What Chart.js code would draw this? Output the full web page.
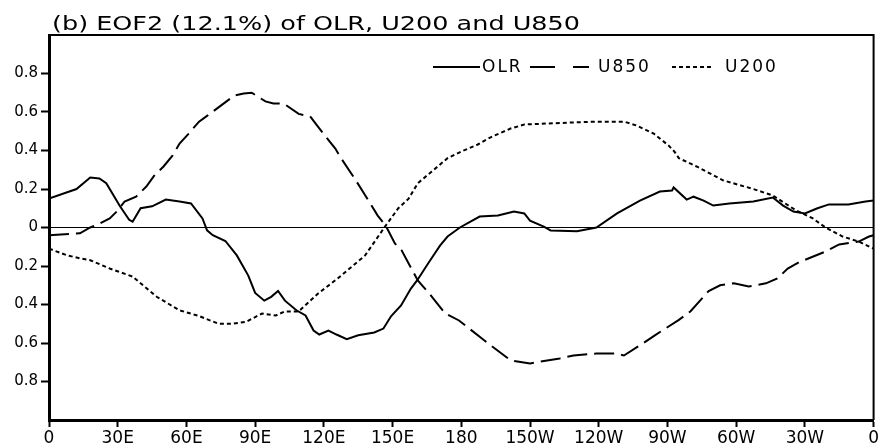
<!DOCTYPE html>
<html>
<head>
<meta charset="utf-8">
<script src="https://cdn.jsdelivr.net/npm/chart.js@4.4.1/dist/chart.umd.min.js"></script>
<style>
html,body{margin:0;padding:0;background:#fff;}
canvas{display:block;}
</style>
</head>
<body>
<canvas id="c" width="880" height="444"></canvas>
<script>
// ---- data ----
const titleText = "(b) EOF2 (12.1%) of OLR, U200 and U850";
const seriesNames = ["OLR", "U850", "U200"];

const olrLon = [0,12,18,22,25,31,35,36.5,40,45,51,57,62,67,69,71.5,77,82,87,90,94,97,100,103,108,112,115.5,118,122,125.5,130,135,142,146,149.4,153.7,158,160.7,165.5,170.7,174,179.4,188,196,203,207.5,210,216,219,230.5,239,248,258,266.7,272,272.7,278.4,281.4,285.8,290,297,307.5,316,320.5,325,330,335.5,340.5,349,356.5,360];
const olrVal = [0.15,0.2,0.26,0.255,0.23,0.11,0.04,0.03,0.1,0.11,0.145,0.135,0.125,0.047,-0.015,-0.04,-0.07,-0.145,-0.25,-0.34,-0.38,-0.36,-0.33,-0.38,-0.43,-0.457,-0.535,-0.556,-0.535,-0.556,-0.58,-0.56,-0.545,-0.525,-0.46,-0.405,-0.317,-0.275,-0.187,-0.094,-0.047,0,0.057,0.062,0.083,0.073,0.036,0.005,-0.015,-0.02,0,0.073,0.14,0.187,0.192,0.208,0.145,0.16,0.14,0.114,0.125,0.135,0.156,0.114,0.083,0.073,0.1,0.12,0.12,0.135,0.14];

const u850Lon = [0,13.5,18,22,26.5,30,33,38,42.5,46,50,54,57,61,65.5,69,81,85,88.5,94.5,98,102.5,109,114,117,125,127.5,134,137,143.5,147,151,154,161,166,173,179,189,193.5,201.5,204.5,210,223,229,239,248,251,259.5,264.5,275,280,288,293,299,305.5,313,318,322.5,327.5,339,345,353.5,358,360];
const u850Val = [-0.04,-0.03,0,0.02,0.047,0.088,0.135,0.16,0.213,0.27,0.317,0.374,0.436,0.488,0.55,0.58,0.686,0.696,0.70,0.655,0.644,0.644,0.59,0.577,0.53,0.41,0.36,0.244,0.187,0.062,0.01,-0.083,-0.12,-0.275,-0.343,-0.447,-0.483,-0.577,-0.618,-0.69,-0.696,-0.706,-0.68,-0.665,-0.655,-0.655,-0.665,-0.6,-0.56,-0.48,-0.436,-0.33,-0.3,-0.29,-0.306,-0.29,-0.265,-0.213,-0.18,-0.125,-0.088,-0.073,-0.047,-0.04];

const u200Lon = [0,8,13.5,18,26.5,36.5,47,57,65.5,74,80,86,93,99,103,109,117.5,126,138,147,152.5,157,161,167,174,180,187,193,201.5,207.5,217.5,227.5,238,251,256.5,264,270.5,273,275,282.7,294.5,307.5,316,326,333.5,339,346.5,353.5,360];
const u200Val = [-0.11,-0.145,-0.16,-0.17,-0.213,-0.255,-0.36,-0.43,-0.46,-0.5,-0.5,-0.49,-0.447,-0.457,-0.436,-0.436,-0.343,-0.265,-0.145,0.01,0.1,0.15,0.23,0.29,0.36,0.395,0.43,0.47,0.514,0.535,0.54,0.545,0.55,0.55,0.53,0.488,0.426,0.395,0.36,0.317,0.244,0.2,0.166,0.09,0.047,0,-0.047,-0.073,-0.11];

const xTickValues = [0,30,60,90,120,150,180,210,240,270,300,330,360];
const xTickLabels = ["0","30E","60E","90E","120E","150E","180","150W","120W","90W","60W","30W","0"];
const yTickValues = [-0.8,-0.6,-0.4,-0.2,0,0.2,0.4,0.6,0.8];
const yTickLabels = ["0.8","0.6","0.4","0.2","0","0.2","0.4","0.6","0.8"];

// ---- chart ----
const toPts = (xs, ys) => xs.map((x, i) => ({x: x, y: ys[i]}));
const dashes = { OLR: [], U850: [20, 7], U200: [4, 3] };

const decor = {
  id: 'decor',
  afterDraw(chart) {
    const ctx = chart.ctx, a = chart.chartArea;
    ctx.save();
    // top & right frame
    ctx.strokeStyle = '#000';
    ctx.lineWidth = 2;
    ctx.setLineDash([]);
    ctx.beginPath();
    ctx.moveTo(a.left - 1, a.top);
    ctx.lineTo(a.right, a.top);
    ctx.lineTo(a.right, a.bottom);
    ctx.stroke();
    // title (stretched horizontally like the original plotting font)
    ctx.fillStyle = '#000';
    ctx.font = '20px "DejaVu Sans"';
    ctx.textBaseline = 'alphabetic';
    ctx.textAlign = 'left';
    const w0 = ctx.measureText(titleText).width;
    ctx.save();
    ctx.translate(52, 30);
    ctx.scale(528 / w0, 1);
    ctx.fillText(titleText, 0, 0);
    ctx.restore();
    // legend
    const ly = 67;
    ctx.font = '17px "DejaVu Sans"';
    ctx.textBaseline = 'middle';
    ctx.letterSpacing = '2px';
    const items = [
      {name: seriesNames[0], x0: 433, x1: 480, tx: 482, dash: []},
      {name: seriesNames[1], x0: 530, x1: 589, tx: 598, dash: [25, 18]},
      {name: seriesNames[2], x0: 672, x1: 714, tx: 725, dash: [4, 3]}
    ];
    items.forEach(it => {
      ctx.lineWidth = 2;
      ctx.setLineDash(it.dash);
      ctx.beginPath();
      ctx.moveTo(it.x0, ly);
      ctx.lineTo(it.x1, ly);
      ctx.stroke();
      ctx.setLineDash([]);
      ctx.fillText(it.name, it.tx, ly + 1);
    });
    ctx.letterSpacing = '0px';
    ctx.restore();
  }
};

new Chart(document.getElementById('c'), {
  type: 'line',
  data: {
    datasets: [
      {label: seriesNames[0], data: toPts(olrLon, olrVal), borderColor: '#000', borderWidth: 2, borderDash: dashes.OLR, pointRadius: 0, tension: 0, fill: false},
      {label: seriesNames[1], data: toPts(u850Lon, u850Val), borderColor: '#000', borderWidth: 2, borderDash: dashes.U850, pointRadius: 0, tension: 0, fill: false},
      {label: seriesNames[2], data: toPts(u200Lon, u200Val), borderColor: '#000', borderWidth: 2, borderDash: dashes.U200, pointRadius: 0, tension: 0, fill: false}
    ]
  },
  options: {
    responsive: false,
    animation: false,
    events: [],
    layout: {padding: {top: 35, right: 2, left: 0, bottom: 0}},
    plugins: {legend: {display: false}, title: {display: false}, tooltip: {enabled: false}},
    scales: {
      x: {
        type: 'linear', min: 0, max: 360,
        afterBuildTicks: ax => { ax.ticks = xTickValues.map(v => ({value: v})); },
        afterFit: ax => { ax.height = 24; },
        ticks: {
          autoSkip: false, maxRotation: 0, padding: 1, color: '#000',
          font: {family: 'DejaVu Sans', size: 17},
          callback: (v) => { const i = xTickValues.indexOf(v); return i >= 0 ? xTickLabels[i] : ''; }
        },
        grid: {display: true, drawOnChartArea: false, drawTicks: true, tickLength: 7, tickColor: '#000', tickWidth: 2, color: '#000'},
        border: {display: true, color: '#000', width: 3}
      },
      y: {
        type: 'linear', min: -1, max: 1,
        afterBuildTicks: ax => { ax.ticks = yTickValues.map(v => ({value: v})); },
        afterFit: ax => { ax.width = 49; },
        ticks: {
          autoSkip: false, padding: 3, color: '#000',
          font: {family: 'DejaVu Sans', size: 15},
          callback: (v) => { const i = yTickValues.findIndex(t => Math.abs(t - v) < 1e-9); return i >= 0 ? yTickLabels[i] : ''; }
        },
        grid: {
          display: true, drawOnChartArea: true, drawTicks: true, tickLength: 8, tickColor: '#000', tickWidth: 2, lineWidth: 1,
          color: c => (c.tick && Math.abs(c.tick.value) < 1e-9) ? '#000' : 'rgba(0,0,0,0)'
        },
        border: {display: true, color: '#000', width: 3}
      }
    }
  },
  plugins: [decor]
});
</script>
</body>
</html>
